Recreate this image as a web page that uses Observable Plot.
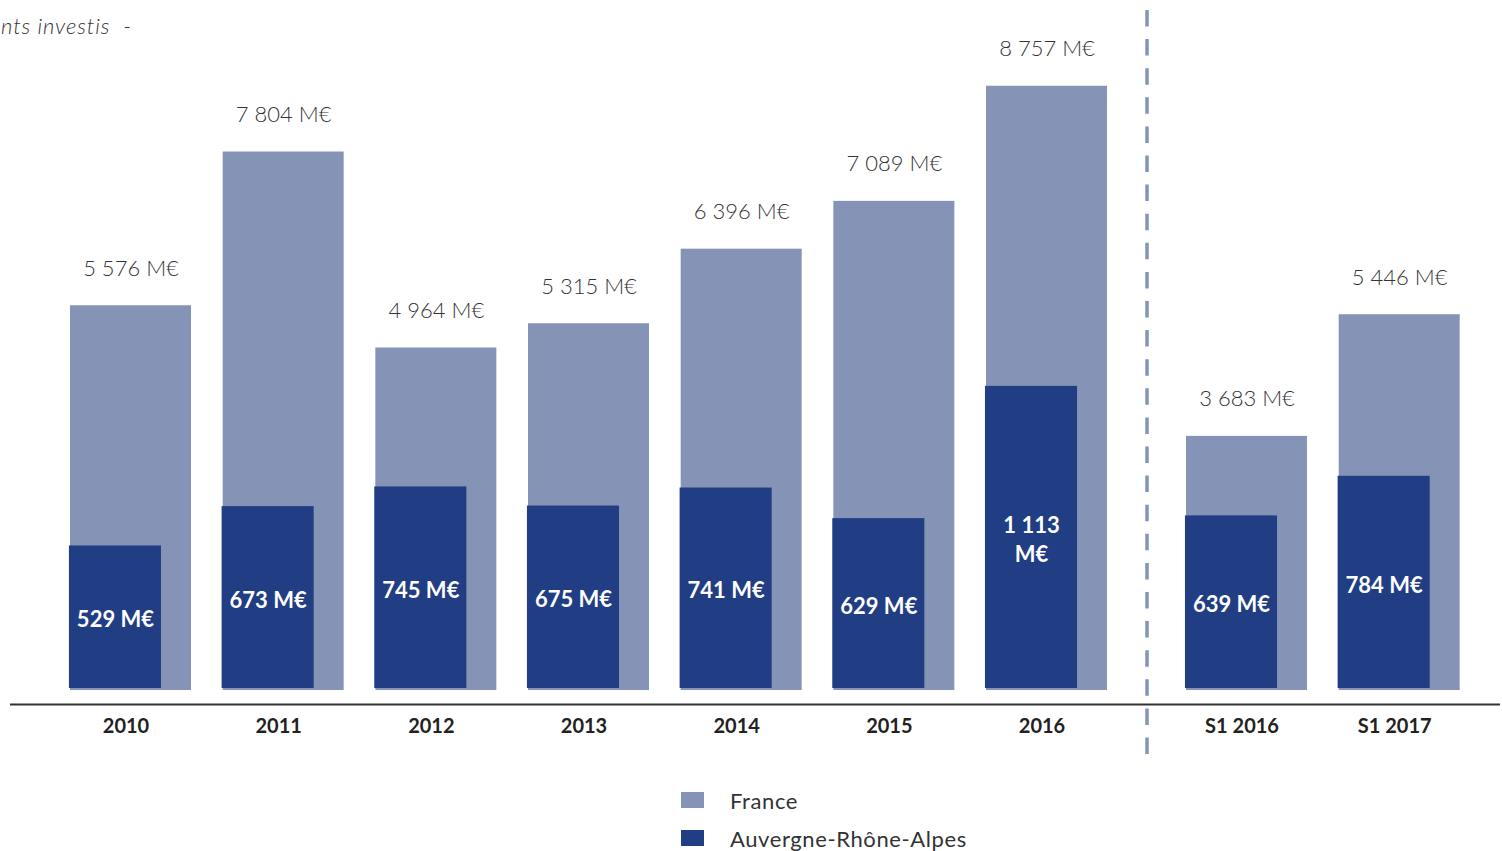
<!DOCTYPE html>
<html><head><meta charset="utf-8">
<script src="https://cdn.jsdelivr.net/npm/d3@7"></script>
<script src="https://cdn.jsdelivr.net/npm/@observablehq/plot@0.6"></script>
<style>
body{margin:0;background:#fff;font-family:Lato,"DejaVu Sans",sans-serif;overflow:hidden}
#wrap{position:relative;width:1502px;height:851px;overflow:hidden}
#chart{position:absolute;left:0;top:0}
#title{position:absolute;top:12px;left:1px;font-style:italic;font-size:22px;color:#333;white-space:nowrap;font-weight:300;letter-spacing:0.9px}
.leg{position:absolute;left:681px;display:flex;align-items:center;font-size:22px;color:#333;white-space:nowrap;letter-spacing:0.6px}
.sw{width:23px;height:16px;margin-right:26px}
</style></head>
<body><div id="wrap"><div id="chart"></div><div id="title">nts investis&nbsp; -</div><div id="legend"></div></div>
<script>
const categories = ["2010","2011","2012","2013","2014","2015","2016","S1 2016","S1 2017"];
const france = [5576,7804,4964,5315,6396,7089,8757,3683,5446];
const region = [529,673,745,675,741,629,1113,639,784];
const seriesNames = ["France","Auvergne-Rhône-Alpes"];
const colors = ["#8493b6","#213d83"];

// layout (in category-step units)
const STEP = 152.67;    // px per category step
const GAP = 0.31;       // extra space before the semester bars
const FW = 121/STEP;    // France bar width
const RW = 91/STEP;     // region bar width
const K = 3.96;         // secondary scale factor for the regional bars

const loc = d3.formatLocale({decimal: ",", thousands: "\u202f", grouping: [3], currency: ["", " €"]});
const fmt = v => loc.format(",")(v).replace("\u202f", " ");

const rows = categories.map((c, i) => ({
  cat: c,
  pos: i + (c.startsWith("S1") ? GAP : 0),
  france: france[i],
  region: region[i]
}));
const lastYear = rows.filter(d => !d.cat.startsWith("S1")).pop();
const firstSem = rows.find(d => d.cat.startsWith("S1"));
const sepPos = (lastYear.pos + FW + firstSem.pos) / 2;

const chart = Plot.plot({
  width: 1502, height: 780,
  marginTop: 0, marginBottom: 90, marginLeft: 10, marginRight: 2,
  style: {fontFamily: "Lato, 'DejaVu Sans', sans-serif", background: "transparent"},
  x: {domain: [-60/STEP, 1430/STEP], axis: null},
  y: {domain: [0, 10000], axis: null},
  marks: [
    Plot.rect(rows, {x1: d => d.pos, x2: d => d.pos + FW, y1: 0, y2: "france", fill: colors[0]}),
    Plot.rect(rows, {x1: d => d.pos - 0.007, x2: d => d.pos + RW, y1: 0, y2: d => d.region * K, fill: colors[1], insetBottom: 2}),
    Plot.text(rows, {x: d => d.pos + FW/2, y: "france", dy: -37, text: d => fmt(d.france) + " M€", fontSize: 22, fontWeight: 300, fill: "#333"}),
    Plot.text(rows, {x: d => d.pos + RW/2 - 0.0035, y: d => d.region * K / 2, text: d => d.region >= 1000 ? fmt(d.region) + "\nM€" : fmt(d.region) + " M€", fontSize: 22, fontWeight: "bold", fill: "#fff", lineHeight: 1.3}),
    Plot.text(rows, {x: d => d.pos + 55.5/STEP, y: 0, dy: 36, text: "cat", fontSize: 20, fontWeight: "bold", fill: "#222"}),
    Plot.ruleY([0], {dy: 14, stroke: "#333", strokeWidth: 2}),
    Plot.ruleX([sepPos], {stroke: colors[0], strokeWidth: 3.5, strokeDasharray: "16.5 12.6", insetTop: 10, insetBottom: -65})
  ]
});
document.getElementById("chart").appendChild(chart);

const legend = document.getElementById("legend");
seriesNames.forEach((n, i) => {
  const div = document.createElement("div");
  div.className = "leg";
  div.style.top = (787 + i * 38) + "px";
  div.style.height = "26px";
  div.innerHTML = `<span class="sw" style="background:${colors[i]}"></span><span>${n}</span>`;
  legend.appendChild(div);
});
</script>
</body></html>
